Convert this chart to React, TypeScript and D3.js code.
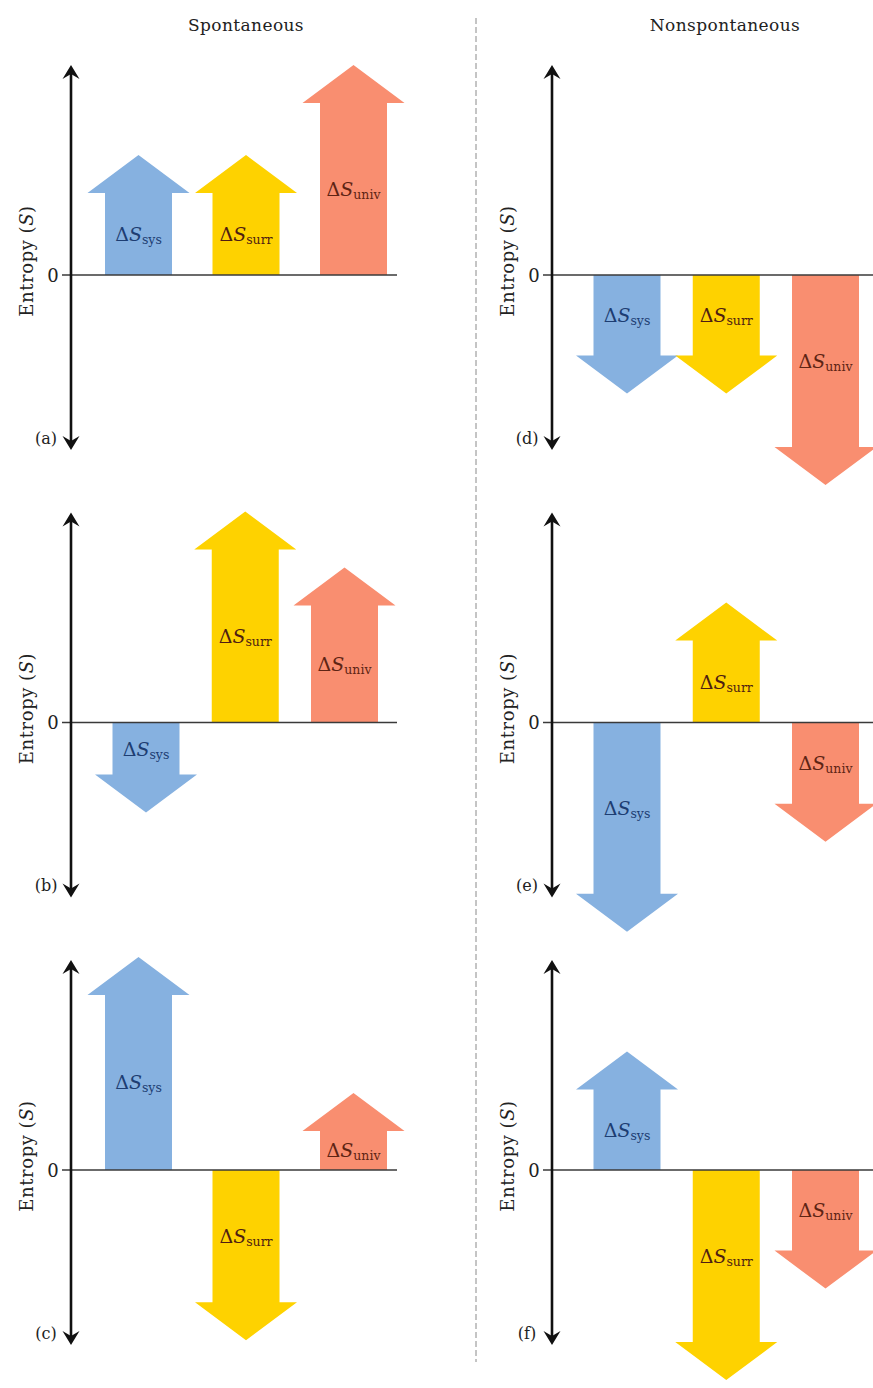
import React from "react";
import * as d3 from "d3";

// ---- data ----
const categories = ["sys", "surr", "univ"];
const panelLetters = ["a", "b", "c", "d", "e", "f"];
const sysValues = [4.0, -3.0, 7.1, -3.95, -6.97, 3.95];
const surrValues = [4.0, 7.03, -5.67, -3.95, 4.0, -7.0];
const univValues = [7.0, 5.17, 2.57, -7.0, -3.97, -3.95];
const columnTitles = ["Spontaneous", "Nonspontaneous"];
const axisDomain = [-5.83, 7];
const zeroTick = "0";
const axisTitle = "Entropy";
const axisSymbol = "S";

const fillColors: Record<string, string> = { sys: "#86b1e0", surr: "#fed200", univ: "#f98e70" };
const labelColors: Record<string, string> = { sys: "#1d3d72", surr: "#4e1d12", univ: "#5e2414" };

const W = 873;
const H = 1388;
const FONT = "DejaVu Serif, serif";

export default function App() {
  const colX = [71, 552];
  const zeroY0 = 275;
  const rowStep = 447.5;
  const headH = 38;
  const shaftHalf = 33.5;
  const headHalf = 51;

  const panels = panelLetters.map((letter, i) => {
    const col = Math.floor(i / 3);
    const row = i % 3;
    const axX = colX[col];
    const zero = zeroY0 + row * rowStep;
    const y = d3.scaleLinear().domain(axisDomain).range([zero + 175, zero - 210]);
    const wide = col === 0 && row !== 1;
    const x = d3
      .scalePoint<string>()
      .domain(categories)
      .range(wide ? [axX + 67.5, axX + 282.5] : [axX + 75, axX + 273.5]);
    const vals: Record<string, number> = { sys: sysValues[i], surr: surrValues[i], univ: univValues[i] };
    return { letter, col, row, axX, zero, y, x, vals };
  });

  const arrowPath = (cx: number, y0: number, tip: number) => {
    const dir = tip < y0 ? 1 : -1;
    const hb = tip + dir * headH;
    const p = d3.path();
    p.moveTo(cx - shaftHalf, y0);
    p.lineTo(cx - shaftHalf, hb);
    p.lineTo(cx - headHalf, hb);
    p.lineTo(cx, tip);
    p.lineTo(cx + headHalf, hb);
    p.lineTo(cx + shaftHalf, hb);
    p.lineTo(cx + shaftHalf, y0);
    p.closePath();
    return { d: p.toString(), hb };
  };

  return (
    <svg width={W} height={H} style={{ display: "block", position: "absolute", left: 0, top: 0, background: "#fff", fontFamily: FONT }}>
      <rect x={0} y={0} width={W} height={H} fill="#ffffff" />
      {columnTitles.map((t, c) => (
        <text key={t} x={c === 0 ? 246 : 725} y={31} textAnchor="middle" fontSize={17} letterSpacing={0.4} fill="#222">
          {t}
        </text>
      ))}
      <line x1={476} x2={476} y1={18} y2={1362} stroke="#8a8a8a" strokeWidth={1} strokeDasharray="6,3" />

      {panels.map((pn) => {
        const { axX, zero, y, x, vals, letter, col } = pn;
        const top = y(axisDomain[1]);
        const bottom = y(axisDomain[0]);
        const lineEnd = col === 0 ? axX + 326 : W;
        return (
          <g key={letter}>
            {categories.map((c) => {
              const cx = x(c) as number;
              const tip = y(vals[c]);
              const { d, hb } = arrowPath(cx, zero, tip);
              const ly = (zero + hb) / 2;
              return (
                <g key={c}>
                  <path d={d} fill={fillColors[c]} />
                  <text x={cx} y={ly} textAnchor="middle" dominantBaseline="central" fill={labelColors[c]} fontSize={19}>
                    <tspan>Δ</tspan>
                    <tspan fontStyle="italic">S</tspan>
                    <tspan fontSize={12.5} dy={5}>{c}</tspan>
                  </text>
                </g>
              );
            })}
            <line x1={axX - 9} x2={lineEnd} y1={zero} y2={zero} stroke="#3a3a3a" strokeWidth={1.3} />
            <text x={axX - 18} y={zero} textAnchor="middle" dominantBaseline="central" fontSize={18} fill="#222">
              {zeroTick}
            </text>
            <line x1={axX} x2={axX} y1={top + 6} y2={bottom - 6} stroke="#111" strokeWidth={2.6} />
            <path d={`M${axX},${top} L${axX - 8.5},${top + 14} L${axX},${top + 9} L${axX + 8.5},${top + 14} Z`} fill="#111" />
            <path d={`M${axX},${bottom} L${axX - 8.5},${bottom - 14} L${axX},${bottom - 9} L${axX + 8.5},${bottom - 14} Z`} fill="#111" />
            <text
              transform={`translate(${axX - 45},${zero - 14}) rotate(-90)`}
              textAnchor="middle"
              dominantBaseline="central"
              fontSize={18}
              letterSpacing={0.6}
              fill="#222"
            >
              {axisTitle}
              <tspan dx={6}>(</tspan>
              <tspan fontStyle="italic">{axisSymbol}</tspan>
              <tspan>)</tspan>
            </text>
            <text x={axX - 25} y={bottom - 12} textAnchor="middle" dominantBaseline="central" fontSize={16} fill="#222">
              ({letter})
            </text>
          </g>
        );
      })}
    </svg>
  );
}
